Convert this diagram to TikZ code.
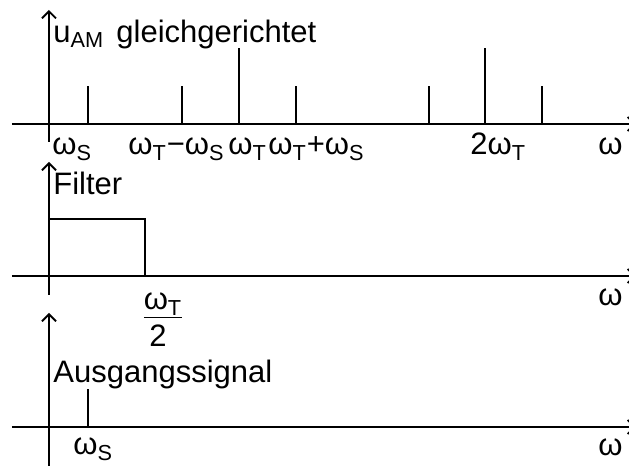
\documentclass[tikz,border=0pt]{standalone}
\usepackage{fontspec}
\setmainfont{Liberation Sans}
\usetikzlibrary{
  arrows.meta,
  positioning
}
\definecolor{ink}{HTML}{000000}
\definecolor{paper}{HTML}{FFFFFF}
\newcommand{\omsub}[1]{ω\textsubscript{#1}}
\tikzset{
  axis/.style={
    draw=ink,
    line width=0.9pt
  },
  yaxis/.style={
    axis,
    -{Straight Barb[length=3.5pt,width=7pt]}
  },
  xaxis/.style={
    axis,
    -{Straight Barb[length=3.5pt,width=7pt]}
  },
  line/.style={
    draw=ink,
    line width=0.9pt
  },
  lbl/.style={
    anchor=base west,
    inner sep=0pt,
    text=ink,
    font=\fontsize{15.5}{18}\selectfont
  }
}

\begin{document}
\begin{tikzpicture}[x=0.5pt, y=-0.5pt]
  \useasboundingbox[fill=paper] (0,0) rectangle (629,466);
  % three frames
  \coordinate (top) at (49,124);
  \coordinate (mid) at (49,276);
  \coordinate (bot) at (49,427);
  \coordinate (topend) at (636,124);
  \coordinate (midend) at (636,276);
  \coordinate (botend) at (636,427);
  \draw[yaxis] (49,142) -- (49,10);
  \draw[xaxis] (12,124) -- (topend);
  \draw[yaxis] (49,295) -- (49,162);
  \draw[xaxis] (12,276) -- (midend);
  \draw[yaxis] (49,466) -- (49,313);
  \draw[xaxis] (12,427) -- (botend);
  % spectrum lines
  \foreach \x/\h in {88/38, 182/38, 239/76, 296/38, 429/38, 485/76, 542/38}
    \draw[line] (top) ++(\x-49,0) -- ++(0,-\h);
  % filter and output
  \draw[line] (mid) ++(0,-57) -- ++(96,0) -- ++(0,57);
  \draw[line] (bot) ++(39,0) -- ++(0,-38);
  % labels
  \node[lbl] (uam) at (53,42) {u\textsubscript{AM}};
  \node[lbl] (title) at (116,42) {gleichgerichtet};
  \node[lbl] (ws) at (52,155) {\omsub{S}};
  \node[lbl] (wdiff) at (128,155) {\omsub{T}−\omsub{S}};
  \node[lbl] (wt) at (228,155) {\omsub{T}};
  \node[lbl] (wsum) at (268,155) {\omsub{T}+\omsub{S}};
  \node[lbl] (wtwo) at (470,155) {2\omsub{T}};
  \node[lbl] (wa) at (598,155) {ω};
  \node[lbl] (filter) at (53,195) {Filter};
  \node[lbl, anchor=base] (frnum) at (163,310) {\underline{\omsub{T}}};
  \node[lbl, anchor=base] (frden) at (158,347) {2};
  \node[lbl] (wb) at (598,306) {ω};
  \node[lbl] (out) at (53,383) {Ausgangssignal};
  \node[lbl] (wso) at (73,455) {\omsub{S}};
  \node[lbl] (wc) at (598,456) {ω};
\end{tikzpicture}
\end{document}
